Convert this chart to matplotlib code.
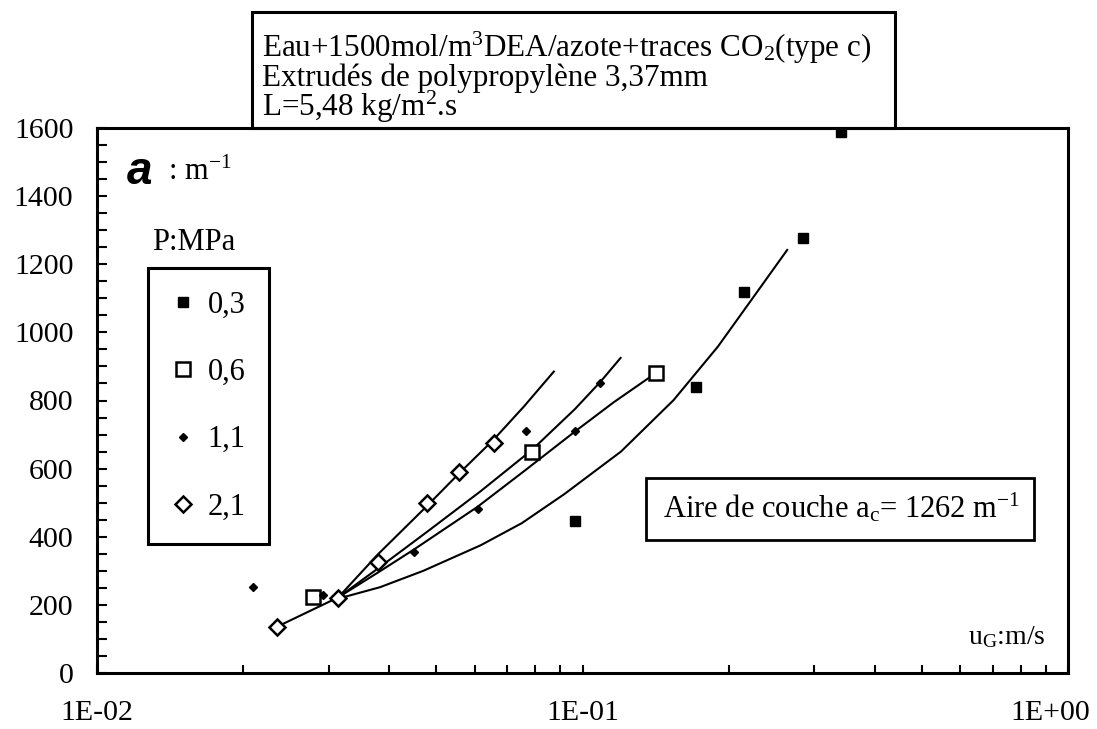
import matplotlib
matplotlib.use('Agg')
import matplotlib.pyplot as plt
from matplotlib.patches import Rectangle
from matplotlib.ticker import FixedLocator, LogLocator, MultipleLocator, NullFormatter

plt.rcParams['font.family'] = ['Liberation Serif', 'DejaVu Serif']
plt.rcParams['mathtext.fontset'] = 'custom'
plt.rcParams['mathtext.rm'] = 'Liberation Serif'
plt.rcParams['mathtext.it'] = 'Liberation Serif:italic'

# measured points, u_G (m/s) vs a (m-1), one pair of lists per pressure
u_03 = [0.0967, 0.171, 0.215, 0.284, 0.34]
a_03 = [447, 841, 1119, 1276, 1588]
u_06 = [0.0279, 0.0787, 0.1414]
a_06 = [224, 650, 880]
u_11 = [0.0210, 0.0292, 0.0449, 0.0608, 0.0765, 0.0963, 0.1089]
a_11 = [253, 229, 356, 481, 711, 711, 850]
u_21 = [0.0235, 0.0314, 0.0380, 0.0478, 0.0556, 0.0656]
a_21 = [136, 219, 327, 498, 591, 674]

# fitted curves
fit_03_u = [0.0317, 0.0383, 0.047, 0.0617, 0.075, 0.0917, 0.12, 0.154, 0.19, 0.224, 0.264]
fit_03_a = [220, 252, 300, 375, 440, 525, 650, 801, 958, 1100, 1242]
fit_06_u = [0.0314, 0.038, 0.0478, 0.0616, 0.0787, 0.0965, 0.1089, 0.1198]
fit_06_a = [222, 308, 414, 533, 655, 775, 855, 925]
fit_11_u = [0.0314, 0.038, 0.0449, 0.0608, 0.0765, 0.0963, 0.116, 0.1414]
fit_11_a = [222, 296, 362, 488, 597, 708, 795, 880]
fit_21_u = [0.0235, 0.0314, 0.038, 0.0478, 0.0556, 0.0656, 0.0757, 0.0873]
fit_21_a = [136, 222, 350, 490, 585, 685, 782, 885]

x_ticks = [0.01, 0.1, 1.0]
x_tick_labels = ['1E-02', '1E-01', '1E+00']
y_ticks = [0, 200, 400, 600, 800, 1000, 1200, 1400, 1600]

W, H = 1097, 729


def fx(px):
    return px / W


def fy(py):
    return (H - py) / H


fig = plt.figure(figsize=(W / 100, H / 100), dpi=100)
ax = fig.add_axes([fx(97), fy(673), fx(1068) - fx(97), fy(128) - fy(673)])

for fu, fa in [(fit_03_u, fit_03_a), (fit_06_u, fit_06_a),
               (fit_11_u, fit_11_a), (fit_21_u, fit_21_a)]:
    ax.plot(fu, fa, color='black', lw=1.5, zorder=2, solid_joinstyle='round')

ax.plot(u_03, a_03, 's', color='black', ms=6.5, ls='none', label='0,3', zorder=3)
ax.plot(u_06, a_06, 's', mfc='white', mec='black', mew=1.8, ms=10, ls='none',
        label='0,6', zorder=3)
ax.plot(u_11, a_11, 'D', color='black', ms=4.5, ls='none', label='1,1', zorder=3)
ax.plot(u_21, a_21, 'D', mfc='white', mec='black', mew=1.8, ms=8, ls='none',
        label='2,1', zorder=3)

ax.set_xscale('log')
ax.set_xlim(0.01, 1)
ax.set_ylim(0, 1600)
ax.xaxis.set_major_locator(FixedLocator(x_ticks))
ax.xaxis.set_minor_locator(LogLocator(subs=range(2, 10)))
ax.xaxis.set_major_formatter(NullFormatter())
ax.xaxis.set_minor_formatter(NullFormatter())
ax.yaxis.set_major_locator(FixedLocator(y_ticks))
ax.yaxis.set_minor_locator(MultipleLocator(50))
ax.tick_params(axis='x', which='both', direction='in', length=6, width=1.5, top=False)
ax.tick_params(axis='y', which='both', direction='in', length=7, width=1.5, right=False,
               labelsize=21.5, pad=17)
for s in ax.spines.values():
    s.set_linewidth(2.2)

for i, (v, lbl) in enumerate(zip(x_ticks, x_tick_labels)):
    dx = -13 if i == len(x_ticks) - 1 else 0
    ax.annotate(lbl, xy=(v, 0), xycoords=ax.get_xaxis_transform(), xytext=(dx, -29),
                textcoords='offset points', ha='center', va='center', fontsize=21.5,
                annotation_clip=False)

# title box above the axes
fig.add_artist(Rectangle((fx(252), fy(128)), fx(895) - fx(252), fy(12) - fy(128),
                         fill=False, ec='black', lw=2.2, transform=fig.transFigure))
fig.text(fx(262), fy(30),
         'Eau+1500mol/m$^3$DEA/azote+traces CO$_2$(type c)\n'
         'Extrudés de polypropylène 3,37mm\n'
         'L=5,48 kg/m$^2$.s',
         ha='left', va='top', fontsize=22.4, linespacing=0.86)

fig.text(fx(127), fy(172), 'a', family='Liberation Sans', weight='bold', style='italic',
         fontsize=33, ha='left', va='center')
fig.text(fx(168), fy(172), ': m$^{\\mathrm{-1}}$', fontsize=22, ha='left', va='center')
fig.text(fx(152), fy(242), 'P:MPa', fontsize=22, ha='left', va='center')

leg = ax.legend(loc='upper left', bbox_to_anchor=(fx(148), fy(268)),
                bbox_transform=fig.transFigure, fancybox=False, edgecolor='black',
                framealpha=1, borderaxespad=0, borderpad=0.75, labelspacing=1.25,
                handlelength=0.8, handletextpad=0.4, fontsize=22, numpoints=1)
leg.get_frame().set_linewidth(2.2)

fig.add_artist(Rectangle((fx(646), fy(540)), fx(1034) - fx(646), fy(478) - fy(540),
                         fill=True, fc='white', ec='black', lw=2.0,
                         transform=fig.transFigure, zorder=4))
fig.text(fx(663), fy(508), 'Aire de couche a$_\\mathrm{c}$= 1262 m$^{\\mathrm{-1}}$',
         fontsize=22, ha='left', va='center', zorder=5)

fig.text(fx(968), fy(637), 'u$_\\mathrm{G}$:m/s', fontsize=20, ha='left', va='center')

fig.savefig('out.png', dpi=100)
